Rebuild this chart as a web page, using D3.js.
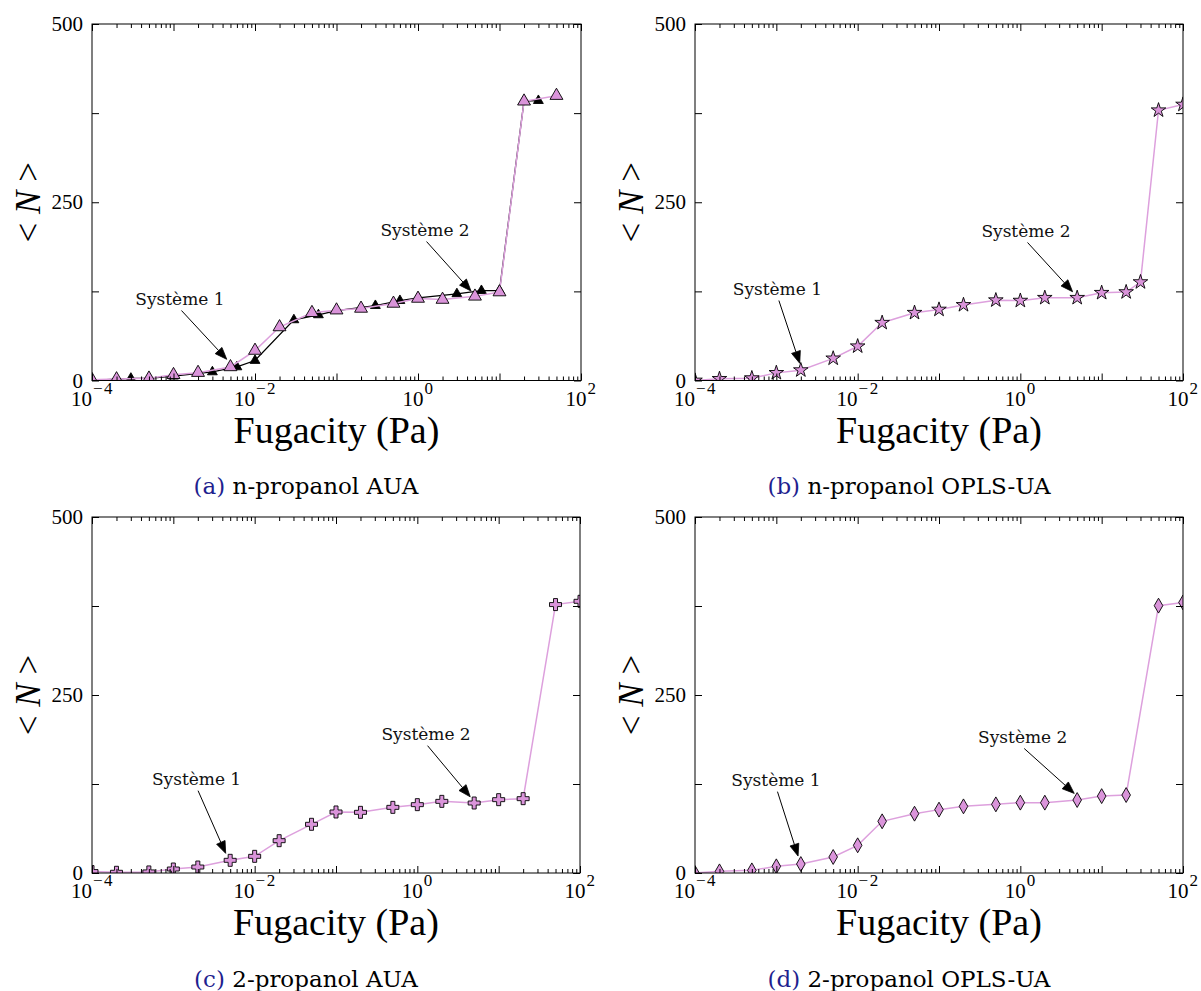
<!DOCTYPE html>
<html><head><meta charset="utf-8">
<script src="https://cdn.jsdelivr.net/npm/d3@7"></script>
<style>html,body{margin:0;padding:0;background:#fff;} svg{display:block}</style>
</head><body>
<svg id="chart" width="1201" height="991"></svg>
<script>
// ---------------- data ----------------
const fugacityA    = [1e-4, 2e-4, 5e-4, 1e-3, 2e-3, 5e-3, 1e-2, 2e-2, 5e-2, 0.1, 0.2, 0.5, 1, 2, 5, 10, 20, 50];
const nPropanolAUA = [1, 2, 3, 8, 11, 19, 42, 75, 95, 98.6, 101, 108, 115, 113.5, 118, 124, 391.6, 399.5];
const fugacityARef    = [1e-4, 3e-4, 5e-4, 1e-3, 3e-3, 6e-3, 1e-2, 3e-2, 6e-2, 0.1, 0.3, 0.6, 1, 3, 6, 10, 20, 30];
const nPropanolAUARef = [0, 3, 3, 6, 12, 19, 28, 85, 92, 98, 105, 112, 116, 121.5, 126, 126, 392, 392.5];

const fugacityB     = [1e-4, 2e-4, 5e-4, 1e-3, 2e-3, 5e-3, 1e-2, 2e-2, 5e-2, 0.1, 0.2, 0.5, 1, 2, 5, 10, 20, 30, 50, 100];
const nPropanolOPLS = [0, 2.3, 3.3, 10.7, 14.5, 31, 48, 81, 95, 99.5, 106, 112.6, 112, 116, 116, 123, 124, 138, 379, 387];

const fugacityC    = [1e-4, 2e-4, 5e-4, 1e-3, 2e-3, 5e-3, 1e-2, 2e-2, 5e-2, 0.1, 0.2, 0.5, 1, 2, 5, 10, 20, 50, 100];
const propanol2AUA = [2, 1, 1.5, 5.6, 8.4, 17.8, 23.4, 45.4, 68.4, 85.7, 85.2, 92.2, 96, 100.6, 98.3, 103, 104.4, 377, 381.6];

const fugacityD     = [1e-4, 2e-4, 5e-4, 1e-3, 2e-3, 5e-3, 1e-2, 2e-2, 5e-2, 0.1, 0.2, 0.5, 1, 2, 5, 10, 20, 50, 100];
const propanol2OPLS = [0, 2.3, 3.7, 9.4, 12.6, 22.5, 38.9, 72.6, 83.3, 89, 93.6, 96.4, 98.8, 98.8, 102.5, 108, 109.5, 375.5, 380];

const yTicks      = [0, 125, 250, 375, 500];
const yTickLabels = ["0", "", "250", "", "500"];
const xMajorExps  = [-4, -3, -2, -1, 0, 1, 2];
const xLabelExps  = [-4, -2, 0, 2];
const xLabel = "Fugacity (Pa)";
const annotationLabels = ["Système 1", "Système 2"];
const captionTags  = ["(a)", "(b)", "(c)", "(d)"];
const captionTexts = ["n-propanol AUA", "n-propanol OPLS-UA", "2-propanol AUA", "2-propanol OPLS-UA"];

// ---------------- style ----------------
const PINK_FILL = "#da94da", PINK_LINE = "#dda0dd";
const TICK_FONT = "Liberation Serif";
const ANN_FONT = "DejaVu Serif";

const svg = d3.select("#chart");
svg.append("rect").attr("width", 1201).attr("height", 991).attr("fill", "#fff");

const panels = [
  { left: 92, right: 581, top: 24, bottom: 380.5, capX: 306,
    series: [
      { x: fugacityARef, y: nPropanolAUARef, symbol: d3.symbolTriangle, size: 42, fill: "#000", line: "#000", lw: 1.3 },
      { x: fugacityA, y: nPropanolAUA, symbol: d3.symbolTriangle, size: 72, fill: PINK_FILL, line: PINK_LINE, lw: 1.5 }
    ],
    ann: [ { text: [1.2e-3, 114.3], tip: [4.5e-3, 29.7] }, { text: [1.22, 211], tip: [4.47, 125.5] } ] },
  { left: 695, right: 1183, top: 24, bottom: 380.5, capX: 909,
    series: [ { x: fugacityB, y: nPropanolOPLS, symbol: d3.symbolStar, size: 66, fill: PINK_FILL, line: PINK_LINE, lw: 1.5 } ],
    ann: [ { text: [1.03e-3, 128.3], tip: [1.94e-3, 24.1] }, { text: [1.175, 209.7], tip: [4.39, 124.5] } ] },
  { left: 92, right: 580, top: 517, bottom: 873, capX: 306,
    series: [ { x: fugacityC, y: propanol2AUA, symbol: d3.symbolCross, size: 80, fill: PINK_FILL, line: PINK_LINE, lw: 1.5 } ],
    ann: [ { text: [1.93e-3, 131.8], tip: [4.4e-3, 27.6] }, { text: [1.28, 195], tip: [4.47, 107] } ] },
  { left: 695, right: 1183, top: 517, bottom: 873, capX: 909,
    series: [ { x: fugacityD, y: propanol2OPLS, symbol: d3.symbolDiamond, size: 64, fill: PINK_FILL, line: PINK_LINE, lw: 1.5 } ],
    ann: [ { text: [9.9e-4, 130.4], tip: [1.85e-3, 23.8] }, { text: [1.07, 191], tip: [4.6, 111.8] } ] }
];

const supers = { "-4": "\u22124", "-2": "\u22122", "0": "0", "2": "2" };

panels.forEach((p, i) => {
  const x = d3.scaleLog().domain([1e-4, 1e2]).range([p.left, p.right]);
  const y = d3.scaleLinear().domain([0, 500]).range([p.bottom, p.top]);
  const g = svg.append("g");
  const clipId = "clip" + i;
  svg.append("defs").append("clipPath").attr("id", clipId)
    .append("rect").attr("x", p.left).attr("y", p.top)
    .attr("width", p.right - p.left).attr("height", p.bottom - p.top);

  // data
  const plot = g.append("g").attr("clip-path", `url(#${clipId})`);
  p.series.forEach(s => {
    const pts = s.x.map((xv, k) => [xv, s.y[k]]);
    plot.append("path").datum(pts)
      .attr("d", d3.line().x(d => x(d[0])).y(d => y(d[1])))
      .attr("fill", "none").attr("stroke", s.line).attr("stroke-width", s.lw);
    const sym = d3.symbol().type(s.symbol).size(s.size);
    plot.selectAll(null).data(pts).join("path")
      .attr("d", sym)
      .attr("transform", d => `translate(${x(d[0])},${y(d[1])})`)
      .attr("fill", s.fill).attr("stroke", "#000").attr("stroke-width", 0.9);
  });

  // axes
  const majors = xMajorExps.map(e => Math.pow(10, e));
  const minors = [];
  for (let e = -4; e < 2; e++) for (let m = 2; m <= 9; m++) minors.push(m * Math.pow(10, e));
  const style = sel => {
    sel.select(".domain").remove();
    sel.selectAll(".tick line").attr("stroke", "#000").attr("stroke-width", 1);
    sel.attr("font-family", TICK_FONT).attr("font-size", 21);
  };
  const bx = g.append("g").attr("transform", `translate(0,${p.bottom})`)
    .call(d3.axisBottom(x).tickValues(majors).tickSize(-7).tickSizeOuter(0).tickPadding(10.5)
      .tickFormat(d => xLabelExps.includes(Math.round(Math.log10(d))) ? "10" : ""))
    .call(style);
  bx.selectAll(".tick text").each(function(d) {
    const e = Math.round(Math.log10(d));
    if (xLabelExps.includes(e)) {
      d3.select(this).append("tspan").attr("dx", 1).attr("dy", -12).attr("font-size", 17)
        .attr("letter-spacing", 1.5).text(supers[String(e)]);
    }
  }).attr("fill", "#000");
  g.append("g").attr("transform", `translate(0,${p.bottom})`)
    .call(d3.axisBottom(x).tickValues(minors).tickSize(-4).tickSizeOuter(0).tickFormat("")).call(style);
  g.append("g").attr("transform", `translate(0,${p.top})`)
    .call(d3.axisTop(x).tickValues(majors).tickSize(-7).tickSizeOuter(0).tickFormat("")).call(style);
  g.append("g").attr("transform", `translate(0,${p.top})`)
    .call(d3.axisTop(x).tickValues(minors).tickSize(-4).tickSizeOuter(0).tickFormat("")).call(style);
  g.append("g").attr("transform", `translate(${p.left},0)`)
    .call(d3.axisLeft(y).tickValues(yTicks).tickSize(-7).tickSizeOuter(0).tickPadding(9)
      .tickFormat((d, k) => yTickLabels[k])).call(style)
    .selectAll(".tick text").attr("fill", "#000");
  g.append("g").attr("transform", `translate(${p.right},0)`)
    .call(d3.axisRight(y).tickValues(yTicks).tickSize(-7).tickSizeOuter(0).tickFormat("")).call(style);

  // frame
  g.append("rect").attr("x", p.left).attr("y", p.top)
    .attr("width", p.right - p.left).attr("height", p.bottom - p.top)
    .attr("fill", "none").attr("stroke", "#000").attr("stroke-width", 1);

  // annotations
  p.ann.forEach((a, k) => {
    const tx = x(a.text[0]), ty = y(a.text[1]);
    const px = x(a.tip[0]), py = y(a.tip[1]);
    g.append("text").attr("x", tx).attr("y", ty).attr("dy", "0.35em")
      .attr("text-anchor", "middle").attr("font-family", ANN_FONT).attr("font-size", 17)
      .attr("fill", "#111").text(annotationLabels[k]);
    const sx = tx + 1.5, sy = ty + 11.5;
    const dx = px - sx, dy = py - sy, L = Math.hypot(dx, dy);
    const ux = dx / L, uy = dy / L, hl = 12, hw = 4.6;
    const bxp = px - ux * hl, byp = py - uy * hl;
    g.append("line").attr("x1", sx).attr("y1", sy).attr("x2", bxp).attr("y2", byp)
      .attr("stroke", "#000").attr("stroke-width", 1);
    g.append("path")
      .attr("d", `M${px},${py}L${bxp - uy * hw},${byp + ux * hw}L${bxp + uy * hw},${byp - ux * hw}Z`)
      .attr("fill", "#000").attr("stroke", "#000").attr("stroke-width", 0.8);
  });

  // y label
  const cy = (p.top + p.bottom) / 2;
  const yl = g.append("text").attr("transform", `translate(${p.left - 64},${cy}) rotate(-90)`)
    .attr("text-anchor", "middle").attr("dominant-baseline", "central")
    .attr("font-family", TICK_FONT).attr("font-size", 35).attr("fill", "#000")
    .style("white-space", "pre");
  yl.append("tspan").text("< ");
  yl.append("tspan").attr("font-style", "italic").text("N");
  yl.append("tspan").text(" >");

  // x label
  const cx = (p.left + p.right) / 2;
  g.append("text").attr("x", cx).attr("y", p.bottom + 62).attr("text-anchor", "middle")
    .attr("font-family", TICK_FONT).attr("font-size", 38).attr("fill", "#000").text(xLabel);

  // caption
  const cap = g.append("text").attr("x", p.capX).attr("y", p.bottom + 113.5).attr("text-anchor", "middle")
    .attr("font-family", ANN_FONT).attr("font-size", 23).attr("fill", "#000")
    .style("white-space", "pre");
  cap.append("tspan").attr("fill", "#1f1f8f").text(captionTags[i]);
  cap.append("tspan").text(" " + captionTexts[i]);
});
</script>
</body></html>
